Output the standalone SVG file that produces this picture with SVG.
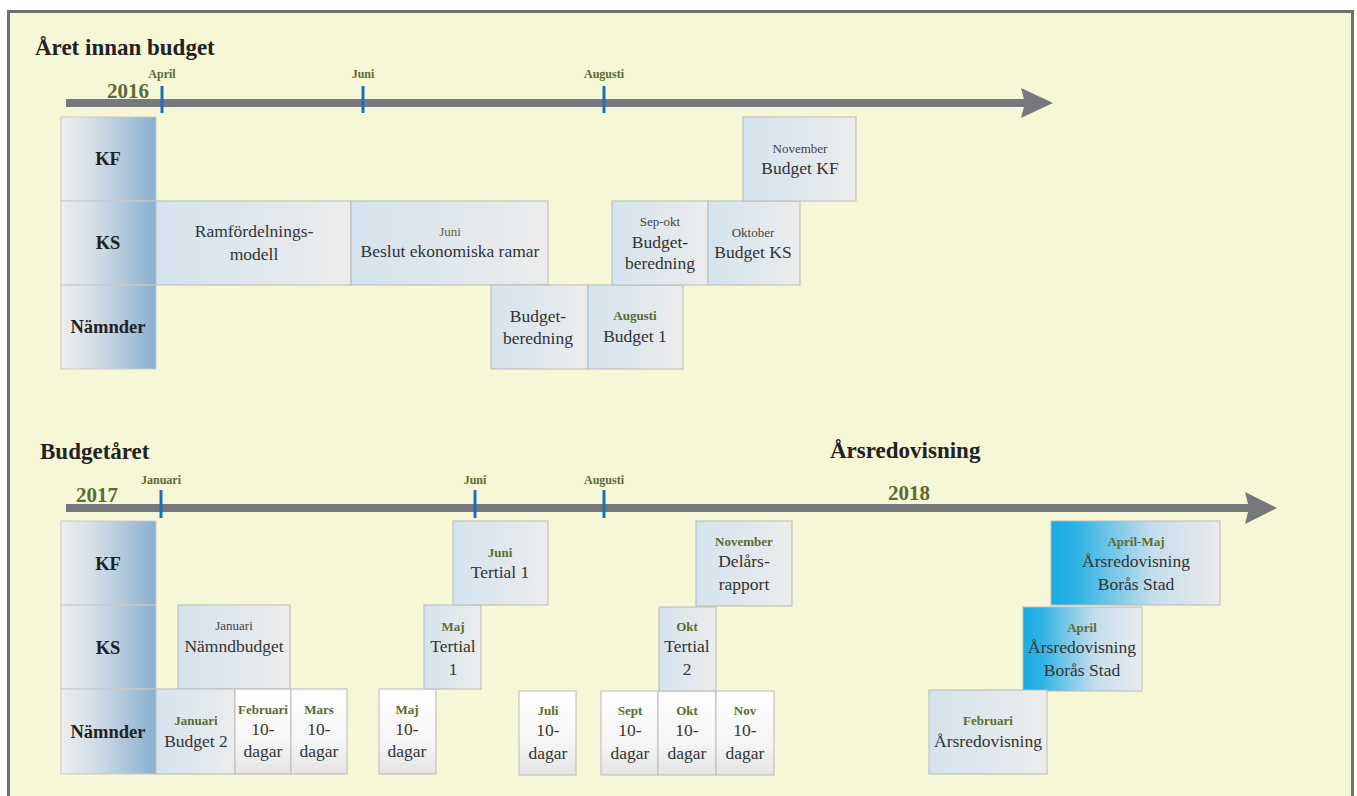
<svg xmlns="http://www.w3.org/2000/svg" width="1357" height="796" viewBox="0 0 1357 796">
<defs>
<linearGradient id="gHead" x1="0" y1="0" x2="1" y2="0"><stop offset="0" stop-color="#EDEDED"/><stop offset="0.35" stop-color="#D3DEE6"/><stop offset="1" stop-color="#89AFCF"/></linearGradient>
<linearGradient id="gBlue" x1="0" y1="0" x2="1" y2="0"><stop offset="0" stop-color="#D5E3EE"/><stop offset="1" stop-color="#ECECEC"/></linearGradient>
<linearGradient id="gWhite" x1="0" y1="0" x2="0" y2="1"><stop offset="0" stop-color="#FFFFFF"/><stop offset="0.6" stop-color="#F6F6F6"/><stop offset="1" stop-color="#E4E4E4"/></linearGradient>
<linearGradient id="gCyan" x1="0" y1="0" x2="1" y2="0"><stop offset="0" stop-color="#18ACE3"/><stop offset="0.15" stop-color="#2DB2E4"/><stop offset="0.6" stop-color="#C4DDEC"/><stop offset="1" stop-color="#EBEBEB"/></linearGradient>
</defs>
<style>
.hd{fill:url(#gHead);stroke:#C9C9C9;stroke-width:1}
.bb{fill:url(#gBlue);stroke:#B9B9B9;stroke-width:1}
.bw{fill:url(#gWhite);stroke:#B9B9B9;stroke-width:1}
.bc{fill:url(#gCyan);stroke:#B9B9B9;stroke-width:1}
text{font-family:"Liberation Serif","DejaVu Serif",serif}
.title{font-size:23px;font-weight:bold;fill:#222}
.year{font-size:21px;font-weight:bold;fill:#5B6B35}
.tl{font-size:12px;font-weight:bold;fill:#5B6B35;text-anchor:middle}
.hl{font-size:18.5px;font-weight:bold;fill:#222;text-anchor:middle}
.t{font-size:17.5px;fill:#333;text-anchor:middle}
.mg{font-size:13px;font-weight:bold;fill:#5B6B35;text-anchor:middle}
.mgn{font-size:13px;fill:#5B6B35;text-anchor:middle}
.mn{font-size:13px;fill:#444;text-anchor:middle}
.tick{stroke:#1C6EB8;stroke-width:3}
.axis{stroke:#77787B;stroke-width:8}
.head{fill:#77787B}
</style>
<rect x="0" y="0" width="1357" height="796" fill="#FFFFFF"/>
<rect x="8.5" y="11.5" width="1344" height="800" fill="#F6F7D6" stroke="#707070" stroke-width="3"/>

<g id="titles">
<text class="title" x="35" y="55">Året innan budget</text>
<text class="title" x="40" y="459">Budgetåret</text>
<text class="title" x="830" y="458">Årsredovisning</text>
<text class="year" x="107" y="98">2016</text>
<text class="year" x="76" y="502">2017</text>
<text class="year" x="888" y="500">2018</text>
</g>

<g id="connectors">
<line class="axis" x1="66" y1="103" x2="1025" y2="103"/>
<polygon class="head" points="1021,88 1053,103 1021,118 1025,103"/>
<line class="tick" x1="162" y1="86" x2="162" y2="113"/>
<line class="tick" x1="363" y1="86" x2="363" y2="113"/>
<line class="tick" x1="604" y1="86" x2="604" y2="113"/>
<line class="axis" x1="66" y1="508" x2="1249" y2="508"/>
<polygon class="head" points="1245,492 1277,508 1245,524 1249,508"/>
<line class="tick" x1="161" y1="490" x2="161" y2="518"/>
<line class="tick" x1="475" y1="490" x2="475" y2="518"/>
<line class="tick" x1="604" y1="490" x2="604" y2="518"/>
</g>

<g id="month-labels">
<text class="tl" x="162" y="78">April</text>
<text class="tl" x="363" y="78">Juni</text>
<text class="tl" x="604" y="78">Augusti</text>
<text class="tl" x="161" y="484">Januari</text>
<text class="tl" x="475" y="484">Juni</text>
<text class="tl" x="604" y="484">Augusti</text>
</g>

<!-- Top section headers -->
<g id="top-KF"><rect class="hd" x="61" y="117" width="95" height="84"/><text class="hl" x="108" y="165">KF</text></g>
<g id="top-KS"><rect class="hd" x="61" y="201" width="95" height="84"/><text class="hl" x="108" y="249">KS</text></g>
<g id="top-Namnder"><rect class="hd" x="61" y="285" width="95" height="84"/><text class="hl" x="108" y="333">Nämnder</text></g>

<g id="ramfordelning"><rect class="bb" x="156" y="201" width="195" height="84"/><text class="t" x="254" y="237">Ramfördelnings-</text><text class="t" x="254" y="260">modell</text></g>
<g id="beslut"><rect class="bb" x="351" y="201" width="197" height="84"/><text class="mgn" x="450" y="236">Juni</text><text class="t" x="450" y="257">Beslut ekonomiska ramar</text></g>
<g id="budgetberedning-n"><rect class="bb" x="491" y="285" width="97" height="84"/><text class="t" x="538" y="322">Budget-</text><text class="t" x="538" y="344">beredning</text></g>
<g id="budget1"><rect class="bb" x="588" y="285" width="95" height="84"/><text class="mg" x="635" y="320">Augusti</text><text class="t" x="635" y="342">Budget 1</text></g>
<g id="budgetberedning-ks"><rect class="bb" x="612" y="201" width="96" height="84"/><text class="mn" x="660" y="226">Sep-okt</text><text class="t" x="660" y="248">Budget-</text><text class="t" x="660" y="269">beredning</text></g>
<g id="budgetks"><rect class="bb" x="708" y="201" width="92" height="84"/><text class="mn" x="753" y="237">Oktober</text><text class="t" x="753" y="258">Budget KS</text></g>
<g id="budgetkf"><rect class="bb" x="743" y="117" width="113" height="84"/><text class="mn" x="800" y="153">November</text><text class="t" x="800" y="174">Budget KF</text></g>

<!-- Bottom section headers -->
<g id="bot-KF"><rect class="hd" x="61" y="521" width="95" height="84"/><text class="hl" x="108" y="570">KF</text></g>
<g id="bot-KS"><rect class="hd" x="61" y="605" width="95" height="84"/><text class="hl" x="108" y="654">KS</text></g>
<g id="bot-Namnder"><rect class="hd" x="61" y="689" width="95" height="85"/><text class="hl" x="108" y="738">Nämnder</text></g>

<g id="namndbudget"><rect class="bb" x="178" y="605" width="112" height="84"/><text class="mn" x="234" y="630">Januari</text><text class="t" x="234" y="652">Nämndbudget</text></g>
<g id="budget2"><rect class="bb" x="156" y="689" width="79" height="85"/><text class="mg" x="196" y="725">Januari</text><text class="t" x="196" y="747">Budget 2</text></g>
<g id="feb"><rect class="bw" x="235" y="689" width="56" height="85"/><text class="mg" x="263" y="714">Februari</text><text class="t" x="263" y="735">10-</text><text class="t" x="263" y="757">dagar</text></g>
<g id="mars"><rect class="bw" x="291" y="689" width="56" height="85"/><text class="mg" x="319" y="714">Mars</text><text class="t" x="319" y="735">10-</text><text class="t" x="319" y="757">dagar</text></g>
<g id="maj-n"><rect class="bw" x="379" y="689" width="57" height="85"/><text class="mg" x="407" y="714">Maj</text><text class="t" x="407" y="735">10-</text><text class="t" x="407" y="757">dagar</text></g>
<g id="tertial1-ks"><rect class="bb" x="424" y="605" width="57" height="84"/><text class="mg" x="453" y="631">Maj</text><text class="t" x="453" y="652">Tertial</text><text class="t" x="453" y="675">1</text></g>
<g id="tertial1-kf"><rect class="bb" x="453" y="521" width="95" height="84"/><text class="mg" x="500" y="557">Juni</text><text class="t" x="500" y="578">Tertial 1</text></g>
<g id="juli"><rect class="bw" x="519" y="691" width="57" height="84"/><text class="mg" x="548" y="715">Juli</text><text class="t" x="548" y="736">10-</text><text class="t" x="548" y="759">dagar</text></g>
<g id="sept"><rect class="bw" x="601" y="691" width="57" height="84"/><text class="mg" x="630" y="715">Sept</text><text class="t" x="630" y="736">10-</text><text class="t" x="630" y="759">dagar</text></g>
<g id="okt-n"><rect class="bw" x="658" y="691" width="58" height="84"/><text class="mg" x="687" y="715">Okt</text><text class="t" x="687" y="736">10-</text><text class="t" x="687" y="759">dagar</text></g>
<g id="nov-n"><rect class="bw" x="716" y="691" width="58" height="84"/><text class="mg" x="745" y="715">Nov</text><text class="t" x="745" y="736">10-</text><text class="t" x="745" y="759">dagar</text></g>
<g id="tertial2"><rect class="bb" x="659" y="607" width="57" height="84"/><text class="mg" x="687" y="631">Okt</text><text class="t" x="687" y="652">Tertial</text><text class="t" x="687" y="675">2</text></g>
<g id="delarsrapport"><rect class="bb" x="696" y="521" width="96" height="85"/><text class="mg" x="744" y="546">November</text><text class="t" x="744" y="567">Delårs-</text><text class="t" x="744" y="590">rapport</text></g>
<g id="arsred-kf"><rect class="bc" x="1051" y="521" width="169" height="84"/><text class="mg" x="1136" y="546">April-Maj</text><text class="t" x="1136" y="567">Årsredovisning</text><text class="t" x="1136" y="590">Borås Stad</text></g>
<g id="arsred-ks"><rect class="bc" x="1023" y="607" width="119" height="84"/><text class="mg" x="1082" y="632">April</text><text class="t" x="1082" y="653">Årsredovisning</text><text class="t" x="1082" y="676">Borås Stad</text></g>
<g id="arsred-n"><rect class="bb" x="929" y="690" width="118" height="84"/><text class="mg" x="988" y="725">Februari</text><text class="t" x="988" y="747">Årsredovisning</text></g>
</svg>
